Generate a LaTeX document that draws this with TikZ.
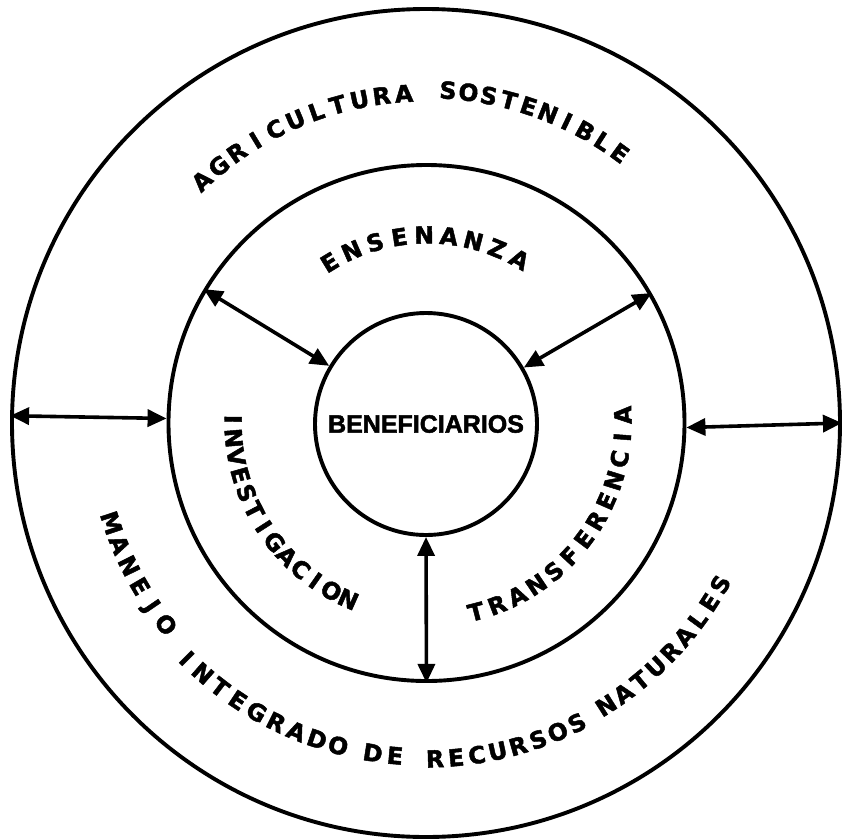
\documentclass[tikz,border=0pt]{standalone}
\usepackage{fontspec}
\setmainfont{Liberation Sans}[BoldFeatures={FakeBold=2}]
\newfontfamily\ringfont{DejaVu Sans}[BoldFeatures={FakeBold=2}]
\usetikzlibrary{arrows.meta,calc}
\tikzset{
  ring/.style={circle, draw, line width=3.9pt, inner sep=0pt},
  ltr/.style={font=\ringfont\bfseries\fontsize{23.5}{23.5}\selectfont, inner sep=0pt, anchor=base},
  link/.style={line width=3.6pt, {Triangle[length=19pt,width=17pt]}-{Triangle[length=19pt,width=17pt]}},
}
% #1 name prefix, #2 centre, #3 baseline radius, #4 first angle, #5 step, #6 letters
\newcommand\topword[6]{%
  \foreach \ch [count=\i] in {#6} {%
    \pgfmathsetmacro\ang{#4+(\i-1)*(#5)}%
    \node[ltr, rotate=\ang-90] (#1-\i) at ($(#2)+(\ang:#3)$) {\ch};
  }}
\newcommand\botword[6]{%
  \foreach \ch [count=\i] in {#6} {%
    \pgfmathsetmacro\ang{#4+(\i-1)*(#5)}%
    \node[ltr, rotate=\ang+90] (#1-\i) at ($(#2)+(\ang:#3)$) {\ch};
  }}
\begin{document}
\begin{tikzpicture}[x=1pt,y=1pt]
\useasboundingbox (-426,-416) rectangle (424,423);
\coordinate (oc) at (-1,3);
\coordinate (mc) at (1,1);
\node[ring, minimum size=828pt] (outer) at (0,0) {};
\node[ring, minimum size=516pt] (middle) at (0.5,0) {};
\node[ring, minimum size=222pt, font=\bfseries\fontsize{25}{25}\selectfont] (inner) at (0,-1) {BENEFICIARIOS};
% connectors
\draw[link] (middle.149.6) -- (inner.149.6);
\draw[link] (middle.30) -- (inner.30);
\draw[link] (inner.270) -- (middle.270);
\draw[link] (outer.179.4) -- (middle.179.2);
\draw[link] (middle.-1) -- (outer.-0.8);
% ring texts
\topword{agr}{oc}{318.5}{133.0}{-3.93}{A,G,R,I,C,U,L,T,U,R,A}
\topword{sos}{oc}{322}{86.0}{-3.57}{S,O,S,T,E,N,I,B,L,E}
\topword{ens}{mc}{178.5}{121.4}{-7.63}{E,N,S,E,N,A,N,Z,A}
\botword{inv}{mc}{202.5}{179.2}{5.57}{I,N,V,E,S,T,I,G,A,C,I,O,N}
\botword{tra}{mc}{204.5}{284.5}{6.46}{T,R,A,N,S,F,E,R,E,N,C,I,A}
\botword{man}{oc}{338.5}{198.2}{4.02}{M,A,N,E,J,O}
\botword{int}{oc}{345.5}{225}{3.76}{I,N,T,E,G,R,A,D,O}
\botword{de}{oc}{345.5}{261.1}{3.8}{D,E}
\botword{rec}{oc}{347.5}{271.7}{3.56}{R,E,C,U,R,S,O,S}
\botword{nat}{oc}{346.5}{302.4}{3.56}{N,A,T,U,R,A,L,E,S}
\end{tikzpicture}
\end{document}
